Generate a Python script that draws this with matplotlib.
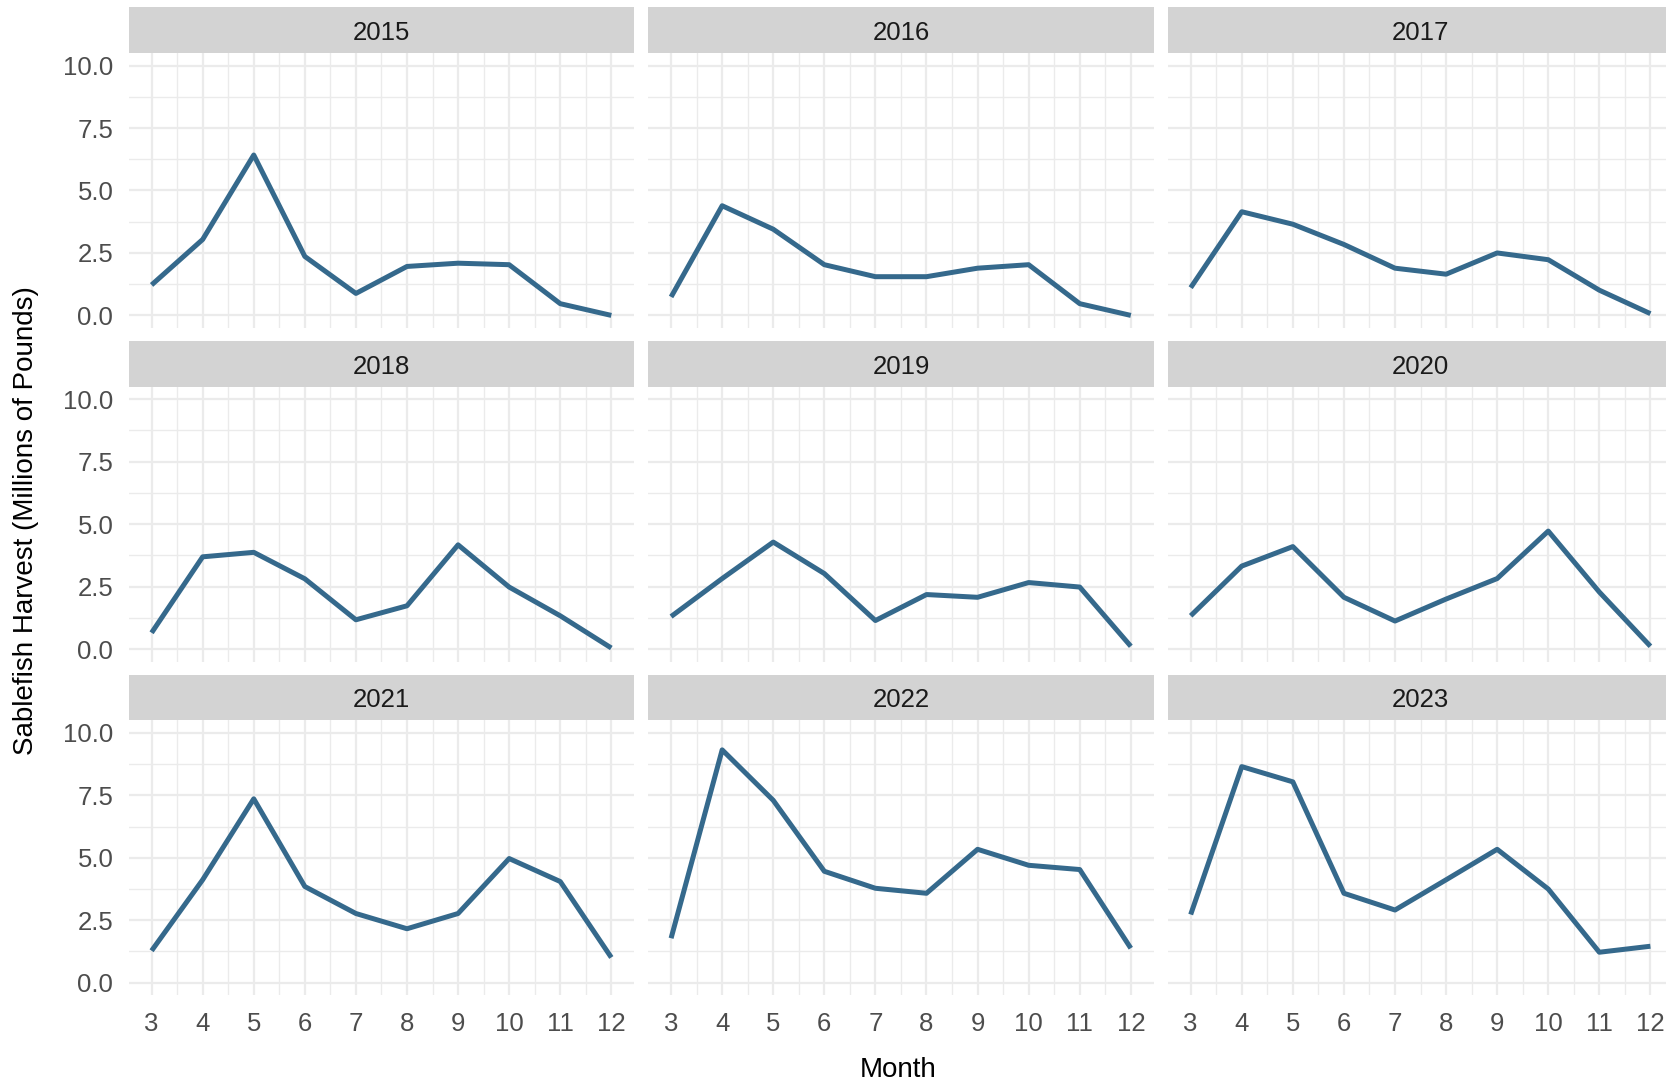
import matplotlib

matplotlib.use("Agg")
import matplotlib.pyplot as plt
import numpy as np

plt.rcParams["font.family"] = ["Liberation Sans", "DejaVu Sans"]

# monthly sablefish harvest, millions of pounds
months = [3, 4, 5, 6, 7, 8, 9, 10, 11, 12]
years = [2015, 2016, 2017, 2018, 2019, 2020, 2021, 2022, 2023]
harvest_2015 = [1.22, 3.04, 6.42, 2.36, 0.88, 1.96, 2.09, 2.03, 0.47, 0.00]
harvest_2016 = [0.74, 4.39, 3.45, 2.03, 1.55, 1.55, 1.89, 2.03, 0.47, 0.00]
harvest_2017 = [1.11, 4.15, 3.65, 2.84, 1.89, 1.65, 2.50, 2.23, 1.01, 0.07]
harvest_2018 = [0.65, 3.69, 3.87, 2.81, 1.17, 1.73, 4.17, 2.48, 1.33, 0.04]
harvest_2019 = [1.30, 2.82, 4.28, 3.02, 1.14, 2.18, 2.07, 2.66, 2.48, 0.11]
harvest_2020 = [1.33, 3.32, 4.10, 2.07, 1.12, 2.00, 2.82, 4.72, 2.28, 0.11]
harvest_2021 = [1.28, 4.12, 7.36, 3.85, 2.77, 2.16, 2.77, 4.97, 4.05, 1.01]
harvest_2022 = [1.78, 9.32, 7.30, 4.46, 3.78, 3.58, 5.34, 4.70, 4.53, 1.38]
harvest_2023 = [2.73, 8.65, 8.04, 3.58, 2.91, 4.12, 5.34, 3.75, 1.22, 1.46]
series = [
    harvest_2015, harvest_2016, harvest_2017,
    harvest_2018, harvest_2019, harvest_2020,
    harvest_2021, harvest_2022, harvest_2023,
]
y_ticks = [0.0, 2.5, 5.0, 7.5, 10.0]

W, H = 1666, 1083
fig = plt.figure(figsize=(W / 100, H / 100), dpi=100)

col_left = [128.6, 648.1, 1167.7]
col_width = 505.7
row_strip_top = [7.4, 341.0, 674.7]
strip_h = 45.7
panel_h = 274.8

line_color = "#35698c"
grid_color = "#ebebeb"

for i, (year, values) in enumerate(zip(years, series)):
    r, c = divmod(i, 3)
    x0 = col_left[c]
    top = row_strip_top[r]
    ax = fig.add_axes([x0 / W, 1 - (top + strip_h + panel_h) / H, col_width / W, panel_h / H])
    strip = fig.add_axes([x0 / W, 1 - (top + strip_h) / H, col_width / W, strip_h / H])
    strip.set_facecolor("#d3d3d3")
    strip.set_xticks([])
    strip.set_yticks([])
    for s in strip.spines.values():
        s.set_visible(False)
    strip.text(0.5, 0.44, str(year), ha="center", va="center", fontsize=18.5, color="#1a1a1a",
               transform=strip.transAxes)

    ax.plot(months, values, color=line_color, linewidth=3.6, solid_capstyle="butt", zorder=3)
    ax.set_xlim(2.55, 12.45)
    ax.set_ylim(-0.5, 10.5)
    ax.set_xticks(months)
    ax.set_xticks(np.arange(3.5, 12.0, 1.0), minor=True)
    ax.set_yticks(y_ticks)
    ax.set_yticks([1.25, 3.75, 6.25, 8.75], minor=True)
    ax.grid(which="major", color=grid_color, linewidth=1.6)
    ax.grid(which="minor", color=grid_color, linewidth=1.0)
    ax.set_axisbelow(True)
    for s in ax.spines.values():
        s.set_visible(False)
    ax.tick_params(which="both", length=0, labelsize=18.5, colors="#4d4d4d")
    ax.tick_params(axis="x", pad=12)
    ax.tick_params(axis="y", pad=11)
    if c == 0:
        ax.set_yticklabels([f"{v:.1f}" for v in y_ticks])
    else:
        ax.set_yticklabels([])
    if r == 2:
        ax.set_xticklabels([str(m) for m in months])
    else:
        ax.set_xticklabels([])

fig.text(898 / W, 1 - 1070 / H, "Month", ha="center", va="center", fontsize=20, color="black")
fig.text(26 / W, 1 - 521 / H, "Sablefish Harvest (Millions of Pounds)", ha="center", va="center",
         rotation=90, fontsize=20, color="black")

fig.savefig("out.png", dpi=100)
